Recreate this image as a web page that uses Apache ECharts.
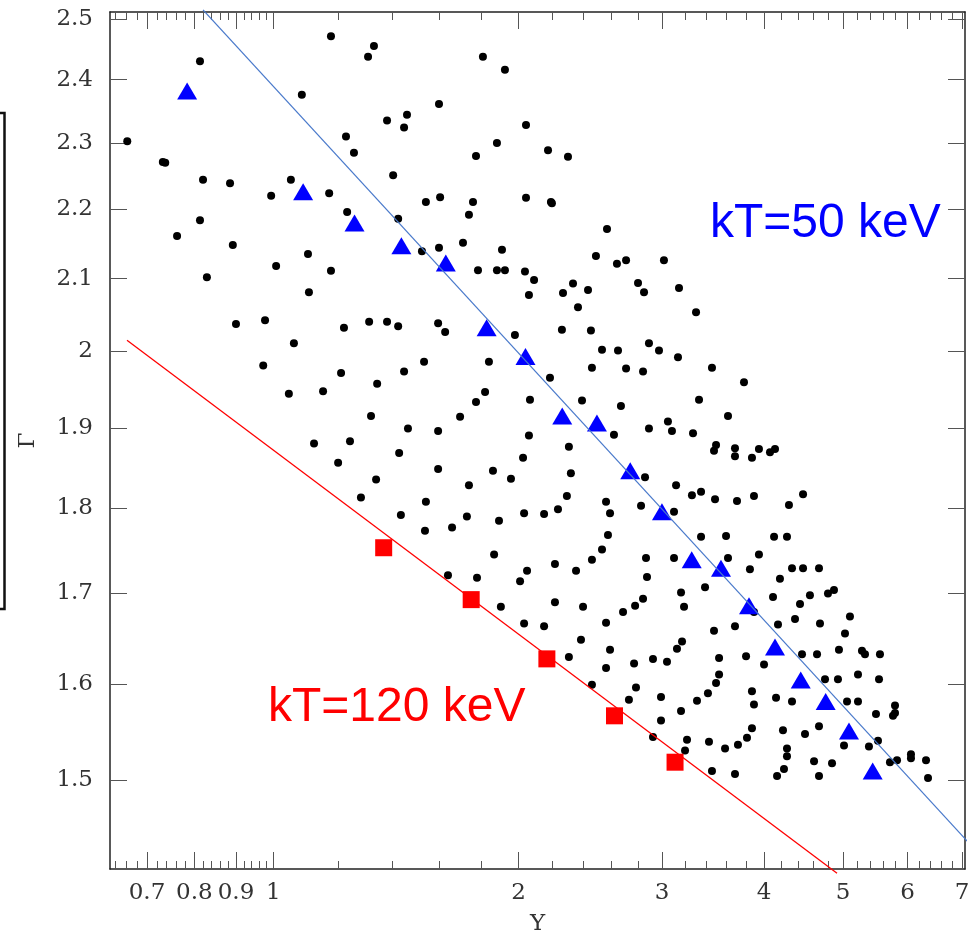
<!DOCTYPE html>
<html>
<head>
<meta charset="utf-8">
<title>Γ versus Y</title>
<script src="https://cdn.jsdelivr.net/npm/echarts@6/dist/echarts.min.js"></script>
<style>
  html, body { margin: 0; padding: 0; background: #ffffff; }
  #chart { width: 973px; height: 936px; }
</style>
</head>
<body>
<div id="chart"></div>
<script>
// ---- axis ranges and ticks ----
const X_MIN = 0.6305, X_MAX = 7.057;
const G_MIN = 1.413, G_MAX = 2.5115;
const xMajorTicks = [0.7, 0.8, 0.9, 1, 2, 3, 4, 5, 6, 7];
const xMinorTicks = [0.64, 0.66, 0.68, 0.72, 0.74, 0.76, 0.78, 0.82, 0.84, 0.86, 0.88,
  0.92, 0.94, 0.96, 0.98, 1.2, 1.4, 1.6, 1.8, 2.2, 2.4, 2.6, 2.8, 3.2, 3.4, 3.6, 3.8,
  4.2, 4.4, 4.6, 4.8, 5.2, 5.4, 5.6, 5.8, 6.2, 6.4, 6.6, 6.8];
const gammaTicks = [1.5, 1.6, 1.7, 1.8, 1.9, 2, 2.1, 2.2, 2.3, 2.4, 2.5];

// ---- model grid (black dots) ----
const modelY = [
  1.177, 1.329, 1.307, 1.808, 1.924, 0.813, 1.084, 1.597, 1.459, 1.379,
  1.447, 2.042, 1.228, 1.881, 0.662, 1.256, 1.773, 0.732, 0.737, 1.403,
  0.820, 0.885, 1.051, 0.994, 1.171, 1.539, 1.602, 1.758, 2.042, 1.232,
  1.738, 0.813, 1.423, 0.762, 0.892, 1.709, 1.597, 1.522, 1.908, 1.103,
  1.008, 1.177, 1.783, 1.881, 1.924, 2.036, 0.829, 1.106, 2.059, 0.900,
  0.977, 1.311, 1.379, 1.423, 1.221, 1.593, 1.625, 1.979, 1.060, 0.972,
  1.531, 1.839, 1.211, 1.447, 1.341, 1.045, 1.151, 1.819, 1.773, 2.065,
  2.173, 2.299, 2.191, 2.197, 2.567, 2.488, 2.640, 2.709, 3.015, 2.089,
  2.332, 2.267, 2.433, 2.802, 2.850, 3.146, 2.365, 3.301, 2.260, 2.453,
  2.890, 2.531, 2.648, 2.973, 3.137, 2.460, 2.709, 2.842, 3.453, 2.185,
  3.780, 1.318, 1.695, 1.463, 1.593, 1.242, 1.122, 2.059, 1.427, 1.201,
  2.025, 1.593, 1.860, 1.957, 1.337, 1.738, 1.281, 1.539, 1.434, 1.728,
  2.031, 1.892, 1.657, 1.535, 1.866, 1.638, 1.778, 2.048, 2.008, 1.902,
  2.031, 2.392, 2.670, 3.329, 3.613, 2.890, 3.049, 3.084, 3.273, 2.618,
  2.305, 3.493, 3.473, 3.685, 3.685, 3.943, 3.866, 4.068, 4.126, 2.318,
  2.858, 3.120, 2.292, 3.263, 3.348, 3.483, 3.706, 3.888, 4.466, 4.292,
  2.149, 2.235, 2.560, 2.589, 2.826, 3.102, 2.574, 3.348, 3.593, 4.115,
  4.268, 2.531, 2.460, 2.866, 3.102, 3.613, 3.943, 2.216, 2.352, 2.874,
  3.844, 4.329, 4.466, 4.672, 4.184, 3.164, 3.386, 4.103, 4.554, 4.792,
  4.874, 2.216, 2.399, 2.686, 2.779, 2.842, 3.191, 4.428, 2.149, 2.560,
  3.685, 3.888, 4.161, 4.366, 4.685, 5.099, 2.385, 3.473, 5.028, 2.589,
  3.173, 3.128, 2.305, 2.771, 2.923, 3.041, 3.523, 3.802, 4.000, 4.453,
  4.646, 4.943, 5.275, 5.320, 5.550, 2.560, 2.460, 3.523, 3.493, 4.752,
  4.929, 5.216, 5.535, 2.786, 2.731, 2.990, 3.414, 3.310, 3.866, 3.888,
  4.138, 4.329, 5.057, 5.216, 3.164, 5.488, 5.791, 5.791, 5.758, 2.990,
  2.923, 3.218, 3.200, 3.424, 3.583, 3.716, 3.812, 3.866, 4.220, 4.491,
  4.672, 4.268, 4.268, 5.014, 5.380, 5.519, 4.607, 4.847, 5.709, 5.824,
  6.058, 6.058, 6.321, 3.453, 3.685, 4.150, 4.232, 4.672, 6.357
];
const modelGamma = [
  2.471, 2.455, 2.437, 2.437, 2.416, 2.430, 2.376, 2.361, 2.344, 2.335,
  2.324, 2.328, 2.310, 2.300, 2.303, 2.285, 2.280, 2.271, 2.270, 2.251,
  2.244, 2.239, 2.244, 2.220, 2.224, 2.211, 2.218, 2.211, 2.217, 2.196,
  2.192, 2.184, 2.186, 2.161, 2.148, 2.151, 2.144, 2.139, 2.141, 2.135,
  2.118, 2.111, 2.112, 2.112, 2.112, 2.110, 2.102, 2.081, 2.077, 2.037,
  2.042, 2.040, 2.040, 2.034, 2.032, 2.038, 2.026, 2.022, 2.011, 1.981,
  1.986, 1.986, 1.971, 1.973, 1.957, 1.944, 1.947, 1.946, 1.933, 1.936,
  2.289, 2.279, 2.211, 2.209, 2.171, 2.132, 2.121, 2.126, 2.126, 2.098,
  2.093, 2.080, 2.084, 2.094, 2.081, 2.087, 2.060, 2.053, 2.029, 2.028,
  2.011, 2.002, 2.001, 2.001, 1.992, 1.978, 1.977, 1.973, 1.978, 1.965,
  1.959, 1.915, 1.914, 1.899, 1.896, 1.883, 1.880, 1.890, 1.868, 1.856,
  1.862, 1.848, 1.846, 1.836, 1.835, 1.828, 1.813, 1.808, 1.792, 1.790,
  1.794, 1.785, 1.777, 1.773, 1.745, 1.721, 1.718, 1.726, 1.714, 1.685,
  1.666, 1.935, 1.928, 1.936, 1.915, 1.899, 1.908, 1.896, 1.893, 1.891,
  1.876, 1.878, 1.871, 1.874, 1.864, 1.873, 1.862, 1.869, 1.873, 1.843,
  1.838, 1.828, 1.815, 1.816, 1.820, 1.811, 1.809, 1.815, 1.817, 1.804,
  1.793, 1.799, 1.808, 1.794, 1.803, 1.796, 1.768, 1.766, 1.767, 1.766,
  1.766, 1.751, 1.739, 1.741, 1.741, 1.741, 1.745, 1.734, 1.726, 1.719,
  1.728, 1.729, 1.729, 1.729, 1.717, 1.701, 1.707, 1.696, 1.698, 1.700,
  1.704, 1.690, 1.685, 1.679, 1.686, 1.694, 1.685, 1.688, 1.663, 1.667,
  1.663, 1.679, 1.665, 1.671, 1.666, 1.674, 1.648, 1.658, 1.655, 1.637,
  1.646, 1.638, 1.629, 1.622, 1.627, 1.624, 1.628, 1.630, 1.621, 1.632,
  1.632, 1.637, 1.636, 1.632, 1.632, 1.617, 1.599, 1.610, 1.601, 1.605,
  1.605, 1.610, 1.605, 1.596, 1.583, 1.586, 1.590, 1.582, 1.592, 1.578,
  1.585, 1.581, 1.581, 1.581, 1.571, 1.568, 1.577, 1.569, 1.566, 1.561,
  1.544, 1.541, 1.530, 1.539, 1.532, 1.536, 1.543, 1.553, 1.551, 1.547,
  1.555, 1.532, 1.524, 1.535, 1.534, 1.540, 1.519, 1.517, 1.518, 1.520,
  1.526, 1.522, 1.520, 1.509, 1.506, 1.504, 1.511, 1.504, 1.502
];

// ---- kT = 50 keV sequence (blue triangles) ----
const kt50Y = [0.784, 1.088, 1.258, 1.436, 1.628, 1.827, 2.039, 2.262, 2.495, 2.741,
  2.998, 3.261, 3.542, 3.834, 4.126, 4.437, 4.761, 5.085, 5.437];
const kt50Gamma = [2.382, 2.226, 2.180, 2.147, 2.122, 2.032, 1.993, 1.915, 1.906, 1.846,
  1.796, 1.739, 1.729, 1.686, 1.640, 1.604, 1.581, 1.550, 1.509];

// ---- kT = 120 keV sequence (red squares) ----
const kt120Y = [1.366, 1.749, 2.166, 2.622, 3.111];
const kt120Gamma = [1.753, 1.693, 1.627, 1.566, 1.518];

// ---- power-law relations (straight lines in log-log) ----
const line50Y = [0.820, 7.573];
const line50Gamma = [2.515, 1.416];
const line120Y = [0.6615, 4.916];
const line120Gamma = [2.015, 1.409];

// Both axes are logarithmic: values are placed on value axes in log10 space.
const lg = Math.log10;
const pairs = (xs, ys) => xs.map((x, i) => [lg(x), lg(ys[i])]);
const fmt = v => String(+Math.pow(10, v).toFixed(2));

const tickFont = { fontFamily: 'DejaVu Serif', fontSize: 23, color: '#333333' };
const frameLine = { color: '#222222', width: 1.5 };
const tickLine = { color: '#555555', width: 1 };

function xAxis(position, ticks, len, withLabels, withLine) {
  return {
    type: 'value', position: position,
    min: lg(X_MIN), max: lg(X_MAX),
    axisLine: { show: withLine, onZero: false, lineStyle: frameLine },
    axisTick: { show: true, inside: true, length: len, customValues: ticks.map(lg), lineStyle: tickLine },
    axisLabel: withLabels
      ? Object.assign({ show: true, customValues: ticks.map(lg), formatter: fmt, margin: 13, hideOverlap: false }, tickFont)
      : { show: false },
    splitLine: { show: false },
    name: withLabels ? 'Y' : '',
    nameLocation: 'middle',
    nameGap: 44,
    nameTextStyle: tickFont
  };
}
function yAxis(position, withLabels) {
  return {
    type: 'value', position: position,
    min: lg(G_MIN), max: lg(G_MAX),
    axisLine: { show: true, onZero: false, lineStyle: frameLine },
    axisTick: { show: true, inside: true, length: 17, customValues: gammaTicks.map(lg), lineStyle: tickLine },
    axisLabel: withLabels
      ? Object.assign({ show: true, customValues: gammaTicks.map(lg), formatter: fmt, margin: 17, hideOverlap: false }, tickFont)
      : { show: false },
    splitLine: { show: false },
    name: withLabels ? 'Γ' : '',
    nameLocation: 'middle',
    nameGap: 70,
    nameTextStyle: tickFont
  };
}

const chart = echarts.init(document.getElementById('chart'), null, { renderer: 'canvas' });
chart.setOption({
  animation: false,
  backgroundColor: '#ffffff',
  grid: { left: 110, top: 12, right: 8, bottom: 67, containLabel: false, outerBoundsMode: 'none' },
  xAxis: [
    xAxis('bottom', xMajorTicks, 17, true, true),
    xAxis('bottom', xMinorTicks, 8, false, false),
    xAxis('top', xMajorTicks, 17, false, true),
    xAxis('top', xMinorTicks, 8, false, false)
  ],
  yAxis: [
    yAxis('left', true),
    yAxis('right', false)
  ],
  series: [
    {
      type: 'scatter', name: 'models',
      data: pairs(modelY, modelGamma),
      symbol: 'circle', symbolSize: 8,
      itemStyle: { color: '#000000', opacity: 1 }, z: 3
    },
    {
      type: 'scatter', name: 'kT=50 keV',
      data: pairs(kt50Y, kt50Gamma),
      symbol: 'triangle', symbolSize: [20, 17],
      itemStyle: { color: '#0000ff', opacity: 1 }, z: 4
    },
    {
      type: 'scatter', name: 'kT=120 keV',
      data: pairs(kt120Y, kt120Gamma),
      symbol: 'rect', symbolSize: 17,
      itemStyle: { color: '#ff0000', opacity: 1 }, z: 4
    },
    {
      type: 'line', name: 'relation 50 keV',
      data: pairs(line50Y, line50Gamma),
      showSymbol: false, symbol: 'none', clip: false,
      lineStyle: { color: '#4a7acb', width: 1.3 }, z: 5
    },
    {
      type: 'line', name: 'relation 120 keV',
      data: pairs(line120Y, line120Gamma),
      showSymbol: false, symbol: 'none', clip: false,
      lineStyle: { color: '#ff0000', width: 1.3 }, z: 5
    }
  ],
  graphic: [
    {
      type: 'polyline', z: 10,
      shape: { points: [[0, 113], [4.5, 113], [4.5, 609], [0, 609]] },
      style: { stroke: '#111111', lineWidth: 2.5, fill: null }
    },
    {
      type: 'text', x: 710, y: 224, z: 10,
      style: { text: 'kT=50 keV', font: '48px "Liberation Sans", Arial, sans-serif', fill: '#0000ff', verticalAlign: 'middle', align: 'left' }
    },
    {
      type: 'text', x: 268, y: 708, z: 10,
      style: { text: 'kT=120 keV', font: '48px "Liberation Sans", Arial, sans-serif', fill: '#ff0000', verticalAlign: 'middle', align: 'left' }
    }
  ]
});
</script>
</body>
</html>
